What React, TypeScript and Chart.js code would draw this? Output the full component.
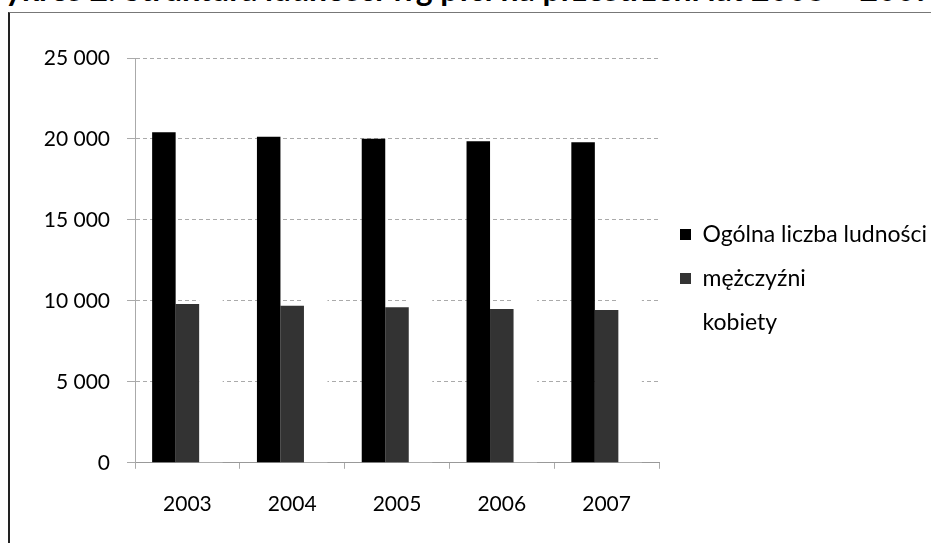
import React, { useEffect, useRef } from "react";
import { Chart, registerables } from "chart.js";

Chart.register(...registerables);

const chartTitle = "Wykres 2. Struktura ludności wg płci na przestrzeni lat 2003 – 2007";
const years = ["2003", "2004", "2005", "2006", "2007"];
const seriesNames = ["Ogólna liczba ludności", "mężczyźni", "kobiety"];
const totalPopulation = [20420, 20140, 20010, 19860, 19800];
const men = [9800, 9700, 9600, 9500, 9430];
const women = [10620, 10440, 10410, 10360, 10370];
const yTickValues = [0, 5000, 10000, 15000, 20000, 25000];

const seriesColors = ["#000000", "#333333", "#ffffff"];

const formatTick = (v: number) => {
  if (v === 0) return "0";
  const th = Math.floor(v / 1000);
  const rest = String(v % 1000).padStart(3, "0");
  return `${th} ${rest}`;
};

const FONT = "Lato, 'Open Sans', sans-serif";

export default function App() {
  const canvasRef = useRef<HTMLCanvasElement | null>(null);

  useEffect(() => {
    const canvas = canvasRef.current;
    if (!canvas) return;
    const chart = new Chart(canvas, {
      type: "bar",
      data: {
        labels: years,
        datasets: [
          { label: seriesNames[0], data: totalPopulation, backgroundColor: seriesColors[0], borderWidth: 0 },
          { label: seriesNames[1], data: men, backgroundColor: seriesColors[1], borderWidth: 0 },
          { label: seriesNames[2], data: women, backgroundColor: seriesColors[2], borderWidth: 0 },
        ],
      },
      options: {
        animation: false,
        responsive: false,
        datasets: {
          bar: { categoryPercentage: 0.673, barPercentage: 1 },
        },
        layout: { padding: { top: 58, bottom: 3, left: 0, right: 0 } },
        plugins: {
          tooltip: { enabled: false },
          title: { display: false },
          legend: {
            position: "right",
            fullSize: false,
            maxWidth: 272,
            title: { display: true, text: "", padding: 0, font: { size: 10, lineHeight: "36px" } },
            labels: {
              boxWidth: 11,
              boxHeight: 11,
              padding: 21,
              color: "#000",
              font: { family: FONT, size: 23 },
            },
          },
        },
        scales: {
          x: {
            grid: { display: true, drawOnChartArea: false, tickLength: 6, color: "#aaa" },
            border: { display: true, color: "#999" },
            ticks: { color: "#000", font: { family: FONT, size: 21 }, padding: 23 },
          },
          y: {
            min: yTickValues[0],
            max: yTickValues[yTickValues.length - 1],
            ticks: {
              stepSize: yTickValues[1] - yTickValues[0],
              callback: (v: any) => formatTick(Number(v)),
              padding: 17,
              color: "#000",
              font: { family: FONT, size: 21 },
            },
            grid: { color: "#aaa", tickLength: 8 },
            border: { display: true, color: "#aaa", dash: [4, 3] },
            afterFit: (s: any) => {
              s.width = 135;
            },
          },
        },
      },
    });
    return () => chart.destroy();
  }, []);

  return (
    <div style={{ position: "fixed", left: 0, top: 0, width: 931, height: 543, overflow: "hidden", background: "#fff" }}>
      <div
        style={{
          position: "absolute",
          left: -28,
          top: -27,
          fontFamily: FONT,
          fontWeight: 700,
          fontSize: 32,
          lineHeight: 1,
          whiteSpace: "nowrap",
          color: "#000",
        }}
      >
        {chartTitle}
      </div>
      <div
        style={{
          position: "absolute",
          left: 8,
          top: 12,
          width: 940,
          height: 560,
          borderLeft: "2px solid #222",
          borderTop: "1px solid #777",
        }}
      />
      <canvas ref={canvasRef} width={931} height={543} style={{ position: "absolute", left: 0, top: 0, display: "block" }} />
    </div>
  );
}
